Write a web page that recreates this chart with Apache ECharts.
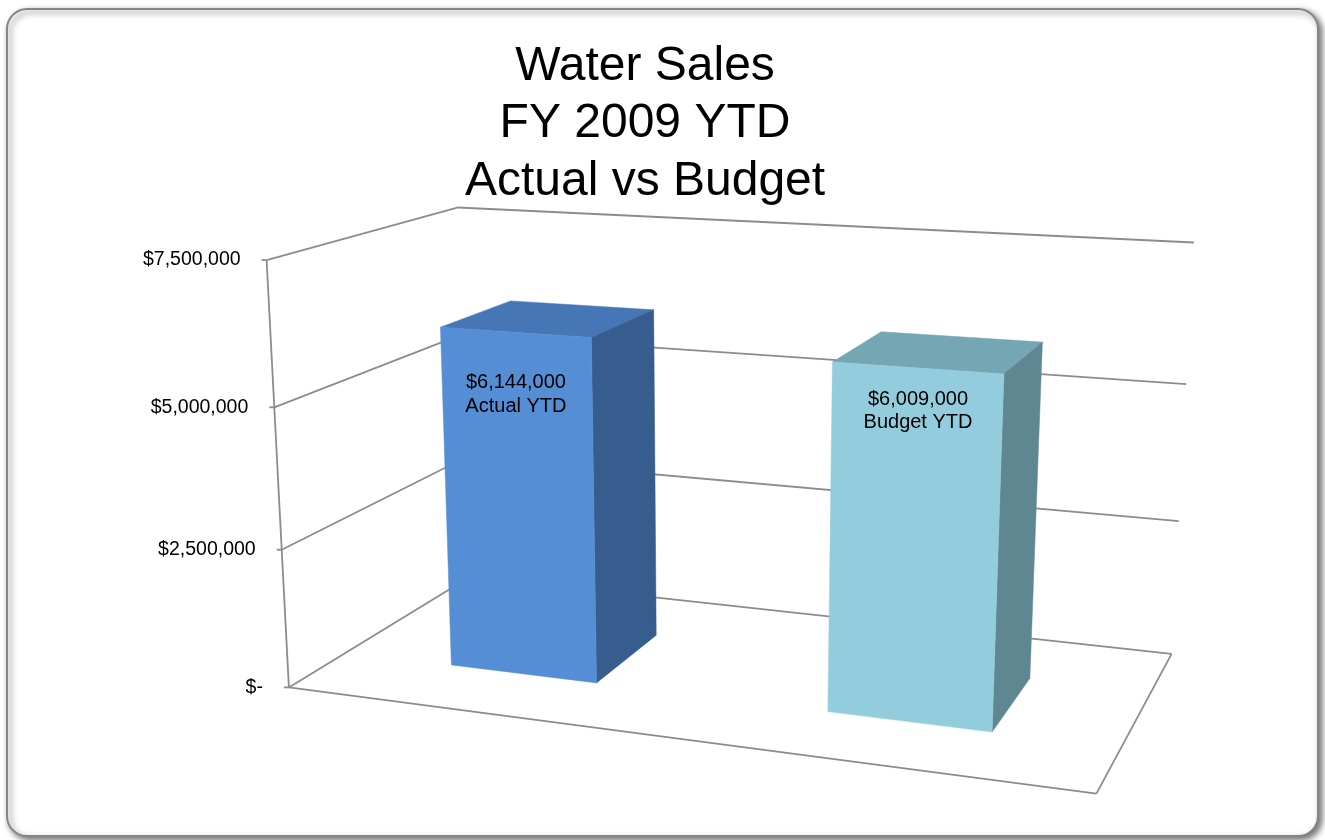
<!DOCTYPE html>
<html>
<head>
<meta charset="utf-8">
<script src="https://cdn.jsdelivr.net/npm/echarts@6/dist/echarts.min.js"></script>
<style>
  html, body { margin: 0; padding: 0; background: #ffffff; }
  #chart { width: 1325px; height: 840px; }
</style>
</head>
<body>
<div id="chart"></div>
<script>
// ---- chart data ----
const categories = ['Actual YTD', 'Budget YTD'];
const salesValues = [6144000, 6009000];
const valueLabels = ['$6,144,000', '$6,009,000'];
const tickValues = [0, 2500000, 5000000, 7500000];
const tickLabels = ['$-', '$2,500,000', '$5,000,000', '$7,500,000'];

// ---- 3D box layout ----
// World box: X 0..1 left→right, Y 0..1 axis min→max, Z 0..1 front→back.
// Each anchor ties a box corner / gridline end to its place on the page.
const boxAnchors = [
  [0, 1, 0, 266, 261],
  [0, 2 / 3, 0, 275, 407],
  [0, 1 / 3, 0, 282, 550],
  [0, 0, 0, 288, 687],
  [0, 1, 1, 458, 207],
  [0, 2 / 3, 1, 462, 334],
  [0, 1 / 3, 1, 466, 458],
  [0, 0, 1, 469.5, 577],
  [1, 1, 1, 1193, 243],
  [1, 2 / 3, 1, 1187, 383],
  [1, 1 / 3, 1, 1180, 521],
  [1, 0, 1, 1170, 655],
  [1, 0, 0, 1097, 793]
];
const barWidthRatio = 0.40;    // share of a category band taken by a column
const barDepth = [0.29, 0.69]; // front / back of the columns along Z
const labelDrop = [62, 43];    // label block offset below the column's front top edge

const barColors = [
  { front: '#558ed5', top: '#4676b5', side: '#365d8d' },
  { front: '#93cddd', top: '#74a6b4', side: '#5e8792' }
];
const lineColor = '#8c8c8c';
const fontFamily = '"Liberation Sans", Arial, sans-serif';

// ---- perspective projection fitted to the anchors (DLT, least squares) ----
const NU = 660, NV = 450, NS = 500;
function solve(M, r) {
  const n = r.length;
  const A = M.map((row, i) => row.concat([r[i]]));
  for (let c = 0; c < n; c++) {
    let p = c;
    for (let i = c + 1; i < n; i++) if (Math.abs(A[i][c]) > Math.abs(A[p][c])) p = i;
    [A[c], A[p]] = [A[p], A[c]];
    for (let i = 0; i < n; i++) {
      if (i === c) continue;
      const f = A[i][c] / A[c][c];
      for (let k = c; k <= n; k++) A[i][k] -= f * A[c][k];
    }
  }
  return A.map((row, i) => row[n] / row[i]);
}
function fitProjection(anchors) {
  const rows = [], rhs = [];
  anchors.forEach(([X, Y, Z, pu, pv]) => {
    const u = (pu - NU) / NS, v = (pv - NV) / NS;
    rows.push([X, Y, Z, 1, 0, 0, 0, 0, -u * X, -u * Y, -u * Z]); rhs.push(u);
    rows.push([0, 0, 0, 0, X, Y, Z, 1, -v * X, -v * Y, -v * Z]); rhs.push(v);
  });
  const N = [], r = [];
  for (let i = 0; i < 11; i++) {
    N.push([]);
    let s = 0;
    for (let k = 0; k < rows.length; k++) s += rows[k][i] * rhs[k];
    r.push(s);
    for (let j = 0; j < 11; j++) {
      let t = 0;
      for (let k = 0; k < rows.length; k++) t += rows[k][i] * rows[k][j];
      N[i].push(t);
    }
  }
  const p = solve(N, r);
  p.push(1);
  return p;
}
const P = fitProjection(boxAnchors);
function project(X, Y, Z) {
  const w = P[8] * X + P[9] * Y + P[10] * Z + P[11];
  const u = (P[0] * X + P[1] * Y + P[2] * Z + P[3]) / w;
  const v = (P[4] * X + P[5] * Y + P[6] * Z + P[7]) / w;
  return [u * NS + NU, v * NS + NV];
}

// fraction of the value axis for a value
function yFrac(params, api, value) {
  const cs = params.coordSys;
  return (cs.y + cs.height - api.coord([0, value])[1]) / cs.height;
}
function seg(a, b, w) {
  return { type: 'line', shape: { x1: a[0], y1: a[1], x2: b[0], y2: b[1] },
    style: { stroke: lineColor, lineWidth: w || 1.8 } };
}
function poly(pts, fill) {
  return { type: 'polygon', shape: { points: pts }, style: { fill: fill, stroke: fill, lineWidth: 0.5 } };
}

const chart = echarts.init(document.getElementById('chart'), null, { renderer: 'canvas' });
chart.setOption({
  animation: false,
  backgroundColor: '#ffffff',
  title: {
    text: 'Water Sales\nFY 2009 YTD\nActual vs Budget',
    left: 640,
    top: 33,
    textAlign: 'center',
    textStyle: { fontFamily: fontFamily, fontSize: 48, fontWeight: 'normal', color: '#000000', lineHeight: 57.5 }
  },
  graphic: [
    {
      type: 'rect', z: -10, silent: true,
      shape: { x: 7, y: 9, width: 1311, height: 827, r: 20 },
      style: { fill: '#ffffff', stroke: '#858585', lineWidth: 2,
        shadowColor: 'rgba(0,0,0,0.55)', shadowBlur: 6, shadowOffsetX: 3, shadowOffsetY: 3 }
    }
  ],
  grid: { left: 100, top: 100, width: 600, height: 600, show: false },
  xAxis: { type: 'category', data: categories, show: false },
  yAxis: { type: 'value', min: 0, max: 7500000, interval: 2500000, show: false },
  series: [
    {
      // box edges: front value axis and the floor's front / right edges
      type: 'custom', clip: false, silent: true,
      data: [[0, 0]],
      renderItem(params, api) {
        const y0 = yFrac(params, api, tickValues[0]);
        const y1 = yFrac(params, api, tickValues[tickValues.length - 1]);
        return { type: 'group', children: [
          seg(project(0, y0, 0), project(0, y1, 0)),
          seg(project(0, y0, 0), project(1, y0, 0)),
          seg(project(1, y0, 0), project(1, y0, 1))
        ] };
      }
    },
    {
      // gridlines on the side and back walls, ticks and tick labels
      type: 'custom', clip: false, silent: true,
      data: tickValues.map(v => [0, v]),
      renderItem(params, api) {
        const y = yFrac(params, api, api.value(1));
        const a = project(0, y, 0), b = project(0, y, 1), c = project(1, y, 1);
        return { type: 'group', children: [
          seg(a, b), seg(b, c),
          seg([a[0] - 5, a[1]], a),
          { type: 'text', style: { text: tickLabels[params.dataIndex], x: a[0] - 26, y: a[1],
            align: 'right', verticalAlign: 'middle', fill: '#000000', fontSize: 19.5, fontFamily: fontFamily } }
        ] };
      }
    },
    {
      // 3D columns with their value labels
      type: 'custom', clip: false, silent: true,
      data: salesValues.map((v, i) => [i, v]),
      renderItem(params, api) {
        const cs = params.coordSys;
        const i = api.value(0);
        const xc = (api.coord([i, 0])[0] - cs.x) / cs.width;
        const hw = api.size([1, 0])[0] / cs.width * barWidthRatio / 2;
        const x0 = xc - hw, x1 = xc + hw;
        const h = yFrac(params, api, api.value(1));
        const zf = barDepth[0], zb = barDepth[1];
        const col = barColors[i];
        const front = [project(x0, 0, zf), project(x1, 0, zf), project(x1, h, zf), project(x0, h, zf)];
        const side = [project(x1, 0, zf), project(x1, 0, zb), project(x1, h, zb), project(x1, h, zf)];
        const top = [project(x0, h, zf), project(x1, h, zf), project(x1, h, zb), project(x0, h, zb)];
        const anchor = project(xc, h, zf);
        return { type: 'group', children: [
          poly(top, col.top), poly(side, col.side), poly(front, col.front),
          { type: 'text', style: { text: valueLabels[i] + '\n' + categories[i], x: anchor[0] + 1, y: anchor[1] + labelDrop[i],
            align: 'center', verticalAlign: 'middle', fill: '#000000', fontSize: 20, lineHeight: 23.5, fontFamily: fontFamily } }
        ] };
      }
    }
  ]
});
</script>
</body>
</html>
